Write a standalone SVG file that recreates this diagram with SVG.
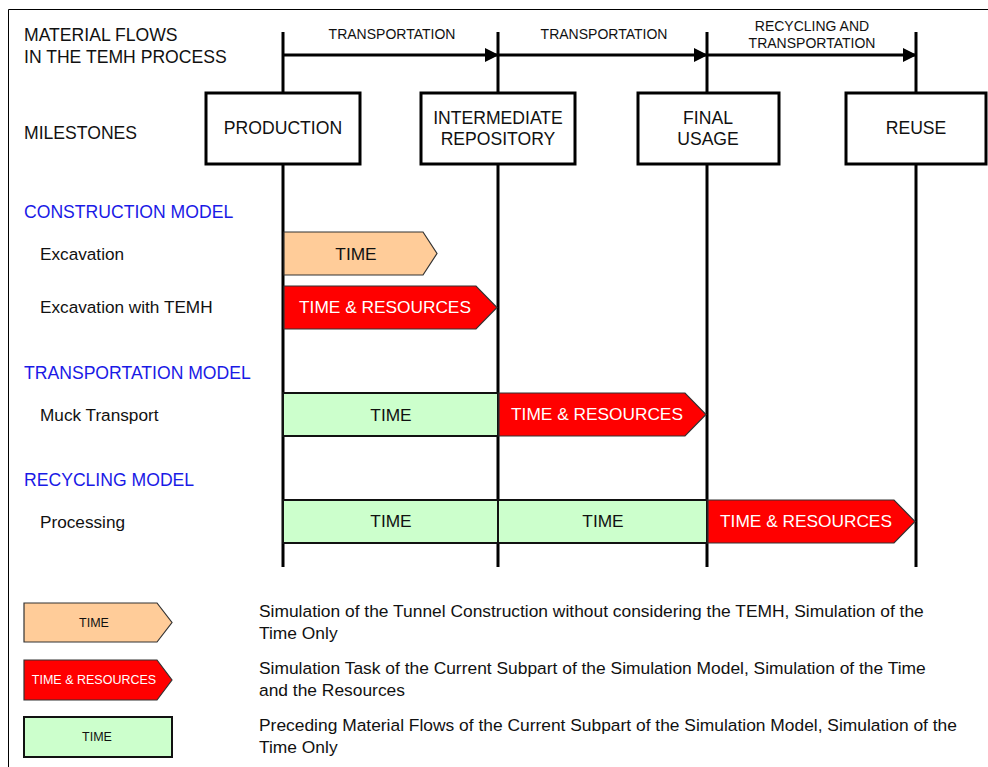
<svg xmlns="http://www.w3.org/2000/svg" width="988" height="767" viewBox="0 0 988 767">
  <defs>
    <marker id="ah" markerWidth="14" markerHeight="14" refX="13" refY="7" orient="auto" markerUnits="userSpaceOnUse">
      <path d="M0,0 L14,7 L0,14 Z" fill="#000"/>
    </marker>
    <style>
      text { font-family: "Liberation Sans", Arial, sans-serif; fill: #111; }
      .hd { font-size: 17.6px; }
      .sub { font-size: 17.2px; }
      .sm { font-size: 14px; }
      .blue { font-size: 17.6px; fill: #1a1ae6; }
      .bar { font-size: 17.3px; text-anchor: middle; }
      .wt { fill: #fff; }
      .lg { font-size: 12.5px; text-anchor: middle; }
      .desc { font-size: 17.4px; }
      .box { fill: #fff; stroke: #000; stroke-width: 3; }
      .axis { stroke: #000; stroke-width: 3; fill: none; }
      .peach { fill: #ffcc99; stroke: #333; stroke-width: 1.2; }
      .red { fill: #ff0000; stroke: #333; stroke-width: 1.2; }
      .green { fill: #ccffcc; stroke: #111; stroke-width: 2; }
    </style>
  </defs>
  <rect width="988" height="767" fill="#fff"/>
  <!-- frame -->
  <path d="M8.5,767 V9.5 H988" fill="none" stroke="#000" stroke-width="1"/>

  <!-- row labels -->
  <text class="hd" x="24" y="41">MATERIAL FLOWS</text>
  <text class="hd" x="24" y="63">IN THE TEMH PROCESS</text>
  <text class="hd" x="24" y="139">MILESTONES</text>
  <text class="blue" x="24" y="218">CONSTRUCTION MODEL</text>
  <text class="sub" x="40" y="260">Excavation</text>
  <text class="sub" x="40" y="313">Excavation with TEMH</text>
  <text class="blue" x="24" y="379">TRANSPORTATION MODEL</text>
  <text class="sub" x="40" y="421">Muck Transport</text>
  <text class="blue" x="24" y="486">RECYCLING MODEL</text>
  <text class="sub" x="40" y="528">Processing</text>

  <!-- connectors: milestone lines and flow arrows -->
  <g id="connectors">
    <path class="axis" d="M283,32 V93 M283,164 V567"/>
    <path class="axis" d="M498,32 V93 M498,164 V567"/>
    <path class="axis" d="M707,32 V93 M707,164 V567"/>
    <path class="axis" d="M916,32 V93 M916,164 V567"/>
    <line class="axis" x1="283" y1="55" x2="498" y2="55" marker-end="url(#ah)"/>
    <line class="axis" x1="498" y1="55" x2="707" y2="55" marker-end="url(#ah)"/>
    <line class="axis" x1="707" y1="55" x2="916" y2="55" marker-end="url(#ah)"/>
    <text class="sm" x="392" y="39" text-anchor="middle">TRANSPORTATION</text>
    <text class="sm" x="604" y="39" text-anchor="middle">TRANSPORTATION</text>
    <text class="sm" x="812" y="31" text-anchor="middle">RECYCLING AND</text>
    <text class="sm" x="812" y="48" text-anchor="middle">TRANSPORTATION</text>
  </g>

  <!-- milestones -->
  <g id="production">
    <rect class="box" x="206" y="93" width="154" height="71"/>
    <text class="hd" x="283" y="134" text-anchor="middle">PRODUCTION</text>
  </g>
  <g id="intermediate-repository">
    <rect class="box" x="421" y="93" width="154" height="71"/>
    <text class="hd" x="498" y="124" text-anchor="middle">INTERMEDIATE</text>
    <text class="hd" x="498" y="145" text-anchor="middle">REPOSITORY</text>
  </g>
  <g id="final-usage">
    <rect class="box" x="638" y="93" width="141" height="71"/>
    <text class="hd" x="708" y="124" text-anchor="middle">FINAL</text>
    <text class="hd" x="708" y="145" text-anchor="middle">USAGE</text>
  </g>
  <g id="reuse">
    <rect class="box" x="846" y="93" width="140" height="71"/>
    <text class="hd" x="916" y="134" text-anchor="middle">REUSE</text>
  </g>

  <!-- construction model -->
  <g id="excavation-time">
    <path class="peach" d="M284,232 H423 L437,253.5 L423,275 H284 Z"/>
    <text class="bar" x="356" y="260">TIME</text>
  </g>
  <g id="excavation-temh">
    <path class="red" d="M284,286 H476 L497,307.5 L476,329 H284 Z"/>
    <text class="bar wt" x="385" y="313">TIME &amp; RESOURCES</text>
  </g>

  <!-- transportation model -->
  <g id="muck-time">
    <rect class="green" x="283" y="393" width="215" height="43"/>
    <text class="bar" x="391" y="421">TIME</text>
  </g>
  <g id="muck-resources">
    <path class="red" d="M499,393 H685 L706,414.5 L685,436 H499 Z"/>
    <text class="bar wt" x="597" y="420">TIME &amp; RESOURCES</text>
  </g>

  <!-- recycling model -->
  <g id="processing-time-1">
    <rect class="green" x="283" y="500" width="215" height="43"/>
    <text class="bar" x="391" y="527">TIME</text>
  </g>
  <g id="processing-time-2">
    <rect class="green" x="498" y="500" width="209" height="43"/>
    <text class="bar" x="603" y="527">TIME</text>
  </g>
  <g id="processing-resources">
    <path class="red" d="M708,500 H894 L915,521.5 L894,543 H708 Z"/>
    <text class="bar wt" x="806" y="527">TIME &amp; RESOURCES</text>
  </g>

  <!-- legend -->
  <g id="legend-time">
    <path class="peach" d="M24,603 H157 L172,622.5 L157,642 H24 Z"/>
    <text class="lg" x="94" y="627">TIME</text>
    <text class="desc" x="259" y="617">Simulation of the Tunnel Construction without considering the TEMH, Simulation of the</text>
    <text class="desc" x="259" y="639">Time Only</text>
  </g>
  <g id="legend-resources">
    <path class="red" d="M24,660 H157 L172,680 L157,700 H24 Z"/>
    <text class="lg wt" x="94" y="684">TIME &amp; RESOURCES</text>
    <text class="desc" x="259" y="674">Simulation Task of the Current Subpart of the Simulation Model, Simulation of the Time</text>
    <text class="desc" x="259" y="696">and the Resources</text>
  </g>
  <g id="legend-preceding">
    <rect class="green" x="24" y="717" width="148" height="40"/>
    <text class="lg" x="97" y="741">TIME</text>
    <text class="desc" x="259" y="731">Preceding Material Flows of the Current Subpart of the Simulation Model, Simulation of the</text>
    <text class="desc" x="259" y="753">Time Only</text>
  </g>
</svg>
